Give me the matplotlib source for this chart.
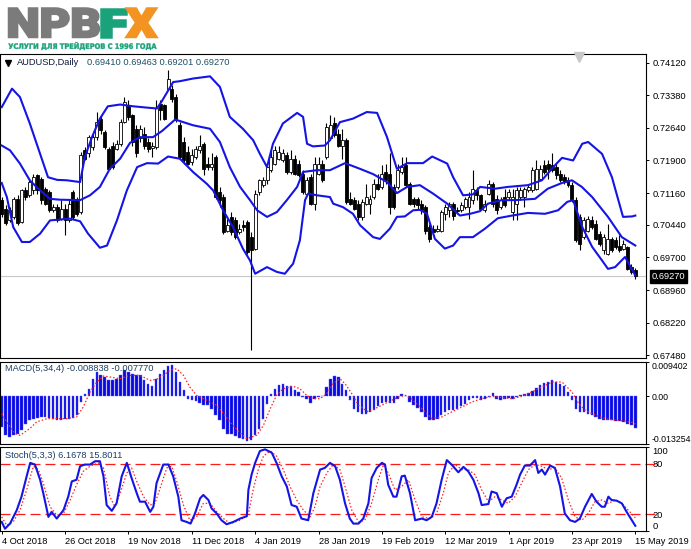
import numpy as np
import matplotlib.pyplot as plt
from matplotlib.textpath import TextPath
from matplotlib.patches import PathPatch
from matplotlib.font_manager import FontProperties
from matplotlib.transforms import Affine2D, blended_transform_factory

plt.rcParams['font.family'] = ['Liberation Sans', 'DejaVu Sans']

# --- AUDUSD daily candles, 4 Oct 2018 .. 15 May 2019 ---
opens = [
    .7100, .7081, .7054, .7062, .7103, .7050, .7122, .7111, .7122, .7156,
    .7149, .7126, .7118, .7077, .7084, .7058, .7081, .7054, .7118, .7103,
    .7073, .7213, .7206, .7221, .7243, .7285, .7255, .7217, .7224, .7217,
    .7228, .7277, .7315, .7293, .7262, .7240, .7251, .7232, .7219, .7221,
    .7319, .7315, .7353, .7353, .7334, .7270, .7232, .7209, .7187, .7198,
    .7213, .7228, .7183, .7175, .7198, .7118, .7107, .7031, .7062, .7054,
    .7028, .7043, .7050, .7016, .6990, .7118, .7134, .7145, .7168, .7183,
    .7194, .7190, .7202, .7164, .7194, .7183, .7160, .7115, .7153, .7092,
    .7160, .7183, .7198, .7240, .7274, .7251, .7224, .7236, .7103, .7100,
    .7092, .7062, .7092, .7092, .7107, .7137, .7130, .7164, .7160, .7130,
    .7130, .7164, .7179, .7137, .7103, .7103, .7092, .7084, .7039, .7035,
    .7031, .7031, .7069, .7077, .7092, .7078, .7077, .7084, .7084, .7100,
    .7122, .7111, .7077, .7115, .7137, .7103, .7084, .7107, .7107, .7073,
    .7092, .7107, .7107, .7122, .7122, .7126, .7149, .7179, .7183, .7179,
    .7175, .7160, .7153, .7145, .7134, .7100, .7062, .7016, .7031, .7054,
    .7046, .7024, .6986, .6978, .7012, .7009, .6997, .6990, .6994, .6948,
    .69410]
highs = [
    .7107, .7088, .7084, .7107, .7111, .7126, .7130, .7149, .7160, .7160,
    .7153, .7130, .7122, .7092, .7092, .7100, .7092, .7100, .7122, .7107,
    .7209, .7221, .7247, .7251, .7300, .7293, .7259, .7221, .7232, .7236,
    .7285, .7334, .7327, .7296, .7270, .7270, .7266, .7240, .7232, .7328,
    .7327, .7319, .7395, .7361, .7342, .7277, .7243, .7224, .7217, .7224,
    .7247, .7232, .7198, .7206, .7202, .7130, .7115, .7058, .7073, .7062,
    .7046, .7054, .7054, .7028, .7122, .7149, .7153, .7183, .7213, .7224,
    .7224, .7217, .7209, .7213, .7202, .7190, .7168, .7153, .7160, .7198,
    .7198, .7190, .7274, .7293, .7289, .7262, .7262, .7240, .7118, .7107,
    .7100, .7103, .7137, .7111, .7149, .7160, .7179, .7183, .7206, .7137,
    .7183, .7198, .7198, .7141, .7107, .7107, .7100, .7088, .7046, .7043,
    .7043, .7077, .7092, .7096, .7096, .7084, .7096, .7107, .7118, .7168,
    .7130, .7115, .7100, .7145, .7141, .7111, .7107, .7126, .7126, .7126,
    .7130, .7130, .7130, .7137, .7175, .7190, .7179, .7190, .7190, .7206,
    .7183, .7168, .7160, .7153, .7141, .7107, .7069, .7062, .7065, .7065,
    .7054, .7031, .7024, .7046, .7016, .7016, .7020, .7009, .6997, .6956,
    .69463]
lows = [
    .7062, .7043, .7050, .7058, .7043, .7047, .7100, .7107, .7115, .7115,
    .7092, .7088, .7073, .7073, .7050, .7054, .7020, .7050, .7058, .7065,
    .7069, .7190, .7198, .7213, .7236, .7251, .7217, .7168, .7171, .7213,
    .7224, .7274, .7281, .7224, .7198, .7232, .7217, .7209, .7198, .7217,
    .7281, .7281, .7349, .7323, .7277, .7194, .7183, .7179, .7179, .7194,
    .7206, .7156, .7168, .7168, .7103, .7084, .7024, .7028, .7020, .7012,
    .7024, .7031, .6978, .6759, .6986, .7111, .7130, .7137, .7164, .7179,
    .7190, .7187, .7160, .7160, .7156, .7153, .7115, .7111, .7088, .7077,
    .7156, .7141, .7194, .7236, .7243, .7221, .7194, .7092, .7088, .7077,
    .7054, .7054, .7088, .7069, .7103, .7122, .7126, .7137, .7069, .7081,
    .7126, .7160, .7130, .7088, .7084, .7081, .7069, .7024, .7005, .7024,
    .7028, .7028, .7054, .7062, .7054, .7069, .7073, .7081, .7058, .7092,
    .7100, .7077, .7073, .7111, .7084, .7069, .7081, .7084, .7103, .7054,
    .7054, .7100, .7084, .7118, .7118, .7122, .7145, .7160, .7149, .7164,
    .7149, .7141, .7137, .7130, .7096, .7005, .6986, .7012, .7028, .7035,
    .7009, .6997, .6978, .6975, .6982, .6990, .6982, .6986, .6941, .6933,
    .69201]
closes = [
    .7069, .7047, .7077, .7103, .7047, .7122, .7107, .7141, .7153, .7122,
    .7100, .7092, .7077, .7084, .7054, .7081, .7054, .7092, .7062, .7069,
    .7202, .7194, .7243, .7243, .7277, .7259, .7221, .7171, .7175, .7228,
    .7277, .7323, .7289, .7232, .7206, .7262, .7224, .7217, .7224, .7308,
    .7304, .7285, .7376, .7330, .7281, .7198, .7190, .7183, .7202, .7217,
    .7224, .7171, .7175, .7183, .7107, .7100, .7028, .7043, .7028, .7016,
    .7035, .7039, .6982, .6986, .7115, .7145, .7145, .7175, .7198, .7213,
    .7209, .7206, .7164, .7194, .7160, .7156, .7118, .7145, .7092, .7183,
    .7183, .7145, .7266, .7270, .7247, .7224, .7236, .7096, .7092, .7081,
    .7062, .7096, .7107, .7103, .7137, .7126, .7160, .7145, .7084, .7084,
    .7168, .7175, .7134, .7092, .7092, .7088, .7077, .7031, .7012, .7028,
    .7035, .7073, .7084, .7092, .7065, .7075, .7088, .7103, .7107, .7126,
    .7111, .7081, .7092, .7137, .7092, .7077, .7100, .7088, .7118, .7107,
    .7122, .7122, .7126, .7130, .7168, .7171, .7171, .7164, .7171, .7168,
    .7156, .7145, .7141, .7134, .7100, .7009, .7001, .7054, .7058, .7039,
    .7012, .7001, .7016, .7012, .6986, .6994, .6986, .7001, .6944, .6937,
    .69270]

# Bollinger bands, read as (bar index, price) points
upper_idx = [0, 2.6, 4.6, 7.1, 9.7, 11.7, 14, 16.5, 19.8, 21, 22.8, 24.8, 26.8, 29.9, 33.2,
             36.7, 39.2, 40.4, 43.3, 45, 48.3, 52.6, 55.1, 57.6, 60.9, 63.5, 65.2, 67, 68.5,
             71, 74.6, 76.1, 77.1, 78.6, 81.6, 82.9, 85.4, 88.7, 92.2, 94.8, 97.3, 99.8,
             102.4, 106.4, 108.7, 112.5, 114, 116.5, 119, 120.8, 124.6, 127.8, 132.9, 136.4,
             139.7, 141.5, 144.3, 146.6, 148.1, 151.6, 154.1, 156.9, 159.2, 160]
upper_val = [.7311, .7353, .7334, .7274, .7205, .7152, .7146, .7145, .7141, .7198, .7243,
             .7285, .7313, .7317, .7313, .7310, .7308, .7324, .7368, .7370, .7376, .7381,
             .7357, .7289, .7262, .7236, .7205, .7175, .7228, .7274, .7298, .7289, .7228,
             .7222, .7224, .7236, .7277, .7285, .7300, .7298, .7243, .7171, .7184, .7184,
             .7199, .7183, .7152, .7111, .7113, .7130, .7126, .7130, .7134, .7145, .7179,
             .7196, .7190, .7228, .7232, .7205, .7152, .7062, .7063, .7065]
mid_idx = [0, 2.1, 4.6, 7.1, 9.7, 12.2, 14.7, 19.8, 22.3, 24.8, 27.3, 29.9, 32.4, 34.9, 38.2,
           40.5, 43.8, 48.3, 52.6, 55.1, 57.6, 60.2, 62.7, 64.5, 67, 69.5, 72, 74.6, 76.1,
           79.6, 82.9, 86.7, 90.5, 93.8, 97.3, 99.8, 102.4, 105.6, 108.9, 112.5, 115.7,
           118.3, 120.8, 122.8, 126.3, 129.6, 134.7, 137.9, 141.5, 144, 146.5, 149.1,
           153.1, 156.6, 160]
mid_val = [.7224, .7213, .7183, .7145, .7122, .7103, .7101, .7100, .7111, .7130, .7171,
           .7194, .7230, .7243, .7243, .7257, .7283, .7270, .7262, .7232, .7175, .7130,
           .7100, .7077, .7062, .7073, .7100, .7130, .7164, .7168, .7168, .7184, .7171,
           .7159, .7141, .7116, .7130, .7134, .7115, .7092, .7065, .7069, .7075, .7092,
           .7100, .7100, .7103, .7126, .7139, .7145, .7130, .7107, .7062, .7016, .6997]
lower_idx = [0, 1.3, 2.9, 5.1, 7.1, 9.7, 12.2, 14.7, 17.2, 19.8, 21.8, 24.8, 26.6, 29.1,
             31.6, 34.2, 36.7, 39.5, 42, 45, 48.3, 51.8, 53.4, 55.9, 58.4, 60.9, 62.7, 64,
             67, 69.5, 71.5, 73.6, 75.3, 76.6, 77.4, 79.6, 82.9, 83.7, 86.2, 88.7, 90.5,
             93.8, 95.5, 98, 99.8, 101.8, 103.9, 105.6, 107.4, 109.4, 111.9, 114, 115.7,
             119, 122, 125.3, 128.9, 132.9, 137.2, 140.5, 142.8, 144.3, 146.6, 149.1,
             151.6, 153.1, 154.9, 157.4, 160]
lower_val = [.7139, .7107, .7039, .7005, .7005, .7024, .7054, .7056, .7058, .7052, .7024,
             .6992, .6997, .7054, .7122, .7175, .7184, .7183, .7199, .7194, .7164, .7137,
             .7122, .7077, .7039, .6990, .6963, .6933, .6948, .6937, .6933, .6956, .7009,
             .7100, .7115, .7111, .7107, .7092, .7084, .7069, .7043, .7016, .7012, .7035,
             .7062, .7063, .7077, .7078, .7069, .7012, .6990, .6997, .7016, .7016, .7035,
             .7059, .7065, .7071, .7069, .7077, .7096, .7100, .7039, .6994, .6963, .6944,
             .6948, .6971, .6929]

# MACD(5,34,4) histogram, one value per bar, and its signal line
macd_hist = [
    -.00855, -.01085, -.01131, -.01085, -.01039, -.00947, -.00763, -.00671, -.00625, -.00606,
    -.00579, -.00579, -.00606, -.00625, -.00671, -.00652, -.00643, -.00643, -.00606, -.00533,
    -.00165, .00065, .00203, .00479, .00663, .00571, .00525, .00433, .00433, .00479,
    .00571, .00709, .00663, .00617, .00571, .00571, .00433, .00341, .00277, .00479,
    .00617, .00709, .00829, .00847, .00663, .00387, .00157, -.00091, -.00119, -.00146,
    -.00183, -.00238, -.00257, -.00349, -.00533, -.00671, -.00901, -.01039, -.01057, -.01112,
    -.01149, -.01177, -.01241, -.01204, -.01085, -.00901, -.00625, -.00211, .00065, .00203,
    .00295, .00323, .00268, .00268, .00176, .00111, -.00027, -.00073, -.00192, -.00073,
    -.00027, .00010, .00249, .00479, .00544, .00525, .00341, .00157, -.00119, -.00349,
    -.00441, -.00487, -.00505, -.00441, -.00376, -.00284, -.00192, -.00165, -.00192, -.00192,
    -.00073, .00047, .00010, -.00165, -.00257, -.00321, -.00441, -.00579, -.00671, -.00671,
    -.00625, -.00533, -.00441, -.00395, -.00395, -.00349, -.00284, -.00211, -.00119, -.00045,
    -.00045, -.00100, -.00073, -.00027, .00084, -.00073, -.00100, -.00073, -.00045, -.00073,
    -.00027, .00019, .00047, .00084, .00139, .00231, .00295, .00360, .00387, .00433,
    .00387, .00341, .00268, .00111, -.00119, -.00349, -.00441, -.00441, -.00487, -.00533,
    -.00579, -.00625, -.00652, -.00671, -.00671, -.00689, -.00689, -.00717, -.00763, -.00809,
    -.00884]
sig_idx = [0, 1.25, 3.4, 4.6, 7.1, 8.8, 11.4, 16.4, 18.9, 20.6, 22.3, 24, 25.7, 27.4, 29.9,
           32.4, 34.9, 37.5, 39.1, 40.8, 42.5, 44.2, 45.9, 47.5, 49.2, 51.8, 54.3, 57.7, 60,
           61.9, 64.4, 66.1, 67.8, 69.4, 71.1, 73.6, 75.3, 77, 78.7, 80.4, 82.1, 83.7, 85.4,
           86.7, 88.4, 90.1, 92.6, 95.1, 97.6, 100.2, 101.9, 103.5, 106.1, 108.6, 111.1,
           113.6, 116.2, 118.7, 121.2, 123.8, 126.3, 128.8, 131.4, 133.9, 136.4, 139,
           141.5, 144, 145.7, 147.4, 149.9, 152.5, 155, 157.5, 159.6, 160]
sig_val = [-.00487, -.00717, -.01039, -.01085, -.00901, -.00717, -.00625, -.00625, -.00579,
           -.00303, .00111, .00387, .00553, .00525, .00479, .00571, .00571, .00433, .00461,
           .00571, .00709, .00755, .00571, .00249, .00019, -.00119, -.00257, -.00720, -.01000,
           -.01177, -.01085, -.00809, -.00349, .00019, .00203, .00268, .00203, .00019,
           -.00073, -.00073, .00065, .00341, .00479, .00341, .00065, -.00257, -.00441,
           -.00303, -.00165, -.00027, .00019, -.00073, -.00349, -.00625, -.00579, -.00441,
           -.00303, -.00165, -.00073, -.00008, -.00045, -.00073, -.00008, .00111, .00249,
           .00387, .00387, .00111, -.00211, -.00395, -.00533, -.00625, -.00671, -.00689,
           -.00744, -.00777]

# Stochastic(5,3,3): %K (blue) and %D (red dotted), read as (bar index, value)
k_idx = [0, 0.83, 2.1, 3.8, 5.0, 6.3, 7.2, 8.4, 9.7, 10.5, 11.8, 12.6, 13.9, 15.6, 16.8, 17.7,
         18.9, 19.8, 21.0, 22.3, 23.6, 24.8, 25.7, 26.5, 27.8, 29.0, 30.3, 31.6, 32.8, 34.1,
         34.9, 36.2, 37.5, 38.3, 39.1, 40.8, 42.1, 43.3, 44.6, 45.4, 46.7, 47.7, 48.8, 50.1,
         50.9, 52.2, 53.0, 54.3, 55.5, 56.8, 58.5, 60.2, 61.9, 62.3, 63.1, 64.0, 65.2, 66.5,
         68.2, 69.4, 70.7, 72.0, 73.2, 74.5, 75.7, 77.4, 78.7, 80.4, 81.6, 82.9, 84.2, 85.4,
         86.7, 87.9, 88.8, 90.1, 91.3, 92.6, 93.4, 94.7, 96.0, 96.8, 97.6, 98.9, 99.7, 101.0,
         101.8, 103.1, 104.4, 106.1, 107.3, 108.6, 109.8, 111.1, 112.4, 113.6, 115.3, 116.6,
         117.8, 119.1, 120.4, 121.2, 122.9, 123.7, 125.0, 126.3, 127.5, 128.8, 130.0, 130.9,
         132.1, 133.4, 134.7, 135.5, 136.4, 137.2, 138.5, 139.7, 141.0, 142.2, 143.5, 144.8,
         146.0, 147.3, 149.0, 150.2, 151.5, 152.3, 153.2, 154.0, 155.3, 156.6, 157.8, 160]
k_val = [10.8, 2.7, 8.8, 24.8, 40.9, 65.1, 81.1, 79.1, 61.0, 45.0, 16.8, 22.8, 14.8, 24.8,
         40.9, 59.0, 61.0, 77.1, 79.1, 79.1, 83.1, 83.1, 65.1, 30.9, 24.0, 32.9, 65.1, 81.1,
         63.0, 45.0, 34.9, 34.9, 22.8, 28.9, 57.0, 79.1, 79.1, 65.1, 40.9, 12.8, 10.8, 8.8,
         20.8, 38.9, 42.9, 36.9, 26.9, 20.8, 12.8, 8.0, 10.8, 14.8, 17.6, 49.0, 67.1, 81.1,
         95.2, 97.2, 93.2, 81.1, 65.1, 53.0, 30.9, 28.9, 14.8, 12.8, 45.0, 73.1, 75.1, 81.1,
         77.1, 61.0, 32.9, 14.8, 8.8, 8.8, 14.8, 32.9, 63.0, 75.1, 81.1, 79.1, 55.0, 40.9,
         40.9, 65.1, 65.9, 45.0, 12.8, 14.8, 12.8, 16.8, 32.9, 61.0, 84.4, 79.1, 69.9, 76.3,
         71.1, 61.0, 45.0, 30.9, 32.1, 47.0, 45.0, 28.9, 38.9, 40.9, 55.0, 67.1, 77.9, 77.9,
         84.4, 69.1, 73.1, 67.1, 77.9, 75.1, 53.0, 20.8, 12.8, 10.8, 14.8, 28.9, 44.1, 34.9,
         28.9, 28.9, 40.9, 36.9, 36.1, 32.9, 22.8, 6.17]
d_idx = [0, 1.25, 2.9, 4.6, 6.3, 8.0, 9.25, 10.5, 12.2, 13.9, 15.6, 17.3, 18.9, 20.6, 22.3,
         24.4, 25.7, 27.3, 28.6, 29.9, 31.6, 32.8, 34.1, 35.8, 37.5, 38.7, 40.0, 41.7, 42.9,
         44.2, 45.9, 47.5, 49.2, 50.9, 52.6, 54.3, 56.0, 57.7, 60.2, 62.3, 63.5, 64.8, 66.1,
         67.8, 69.4, 71.1, 72.8, 74.5, 76.2, 77.9, 79.1, 80.4, 82.1, 83.7, 85.4, 86.7, 88.4,
         90.1, 91.7, 93.4, 95.1, 96.4, 97.6, 99.3, 101.0, 102.7, 104.4, 106.1, 108.2, 109.8,
         111.5, 112.8, 114.5, 116.2, 117.8, 119.5, 121.2, 122.9, 124.6, 126.3, 127.9, 129.6,
         131.3, 133.0, 134.7, 136.4, 138.0, 139.7, 141.4, 143.1, 144.8, 146.5, 148.1, 149.8,
         151.5, 153.2, 154.9, 156.6, 158.2, 160]
d_val = [16.8, 6.8, 10.8, 24.8, 49.0, 77.1, 73.1, 57.0, 28.9, 18.8, 20.8, 36.9, 55.0, 71.1,
         77.1, 81.1, 75.1, 40.9, 28.9, 45.0, 69.1, 75.1, 59.0, 40.9, 30.9, 32.9, 51.0, 75.1,
         77.1, 59.0, 30.9, 12.8, 16.8, 32.9, 32.9, 22.8, 14.8, 8.8, 12.8, 20.8, 49.0, 73.1,
         89.2, 95.2, 89.2, 73.1, 53.0, 36.9, 24.8, 16.8, 28.9, 53.0, 69.1, 79.1, 73.1, 53.0,
         24.8, 10.8, 12.8, 32.9, 61.0, 79.1, 69.1, 49.0, 53.0, 61.0, 36.9, 16.8, 14.8, 20.8,
         45.0, 69.1, 79.1, 73.1, 73.1, 67.1, 49.0, 34.9, 40.9, 36.9, 32.9, 40.9, 57.0, 73.1,
         79.1, 77.1, 73.1, 75.1, 63.0, 36.9, 16.8, 12.8, 20.8, 34.9, 36.9, 32.9, 36.9, 32.9,
         24.8, 15.8]

price_ticks = [0.74120, 0.73380, 0.72640, 0.71900, 0.71160, 0.70440, 0.69700, 0.68960,
               0.68220, 0.67480]
date_labels = ['4 Oct 2018', '26 Oct 2018', '19 Nov 2018', '11 Dec 2018', '4 Jan 2019',
               '28 Jan 2019', '19 Feb 2019', '12 Mar 2019', '1 Apr 2019', '23 Apr 2019',
               '15 May 2019']
last_price = 0.69270

# --- figure layout (MT4 style, three stacked panels) ---
W, H = 691, 549
fig = plt.figure(figsize=(W / 100, H / 100), dpi=100)


def px_axes(x0, y0, x1, y1):
    return fig.add_axes([x0 / W, 1 - y1 / H, (x1 - x0) / W, (y1 - y0) / H])


ax = px_axes(0, 54, 646, 358)
ax_m = px_axes(0, 362, 646, 444)
ax_s = px_axes(0, 447, 646, 531)

n = len(closes)
x = np.arange(n)
o, h, l, c = map(np.array, (opens, highs, lows, closes))
XL = (-0.43, 162.7)
TXT = dict(fontsize=6.7)

for a in (ax, ax_m, ax_s):
    a.set_xlim(*XL)
    a.yaxis.tick_right()
    a.tick_params(axis='y', direction='out', length=2.5, width=0.7, pad=2,
                  labelsize=6.7, colors='black')
    for sp in a.spines.values():
        sp.set_linewidth(0.8)
        sp.set_color('black')
    a.set_xticks([])

# main panel: candles + bollinger bands
ax.set_ylim(0.67417, 0.74317)
ax.axhline(last_price, color='#c8c8c8', lw=0.8, zorder=1)
ax.vlines(x, l, h, color='black', lw=0.8, zorder=2)
lo_b = np.minimum(o, c)
hi_b = np.maximum(o, c)
ax.bar(x, np.maximum(hi_b - lo_b, 0.00006), bottom=lo_b, width=0.75,
       color=np.where(c >= o, 'white', 'black'), edgecolor='black', linewidth=0.6, zorder=3)
band_c = '#1414e6'
ax.plot(upper_idx, upper_val, color=band_c, lw=1.5, zorder=4)
ax.plot(mid_idx, mid_val, color=band_c, lw=1.5, zorder=4)
ax.plot(lower_idx, lower_val, color=band_c, lw=1.5, zorder=4)
ax.set_yticks(price_ticks)
ax.set_yticklabels([f'{v:.5f}' for v in price_ticks])

bt = blended_transform_factory(ax.transAxes, ax.transData)
ax.text(1.0085, last_price, f'{last_price:.5f}', transform=bt, ha='left', va='center',
        color='white', fontsize=6.7, zorder=10, clip_on=False,
        bbox=dict(boxstyle='square,pad=0.18', fc='black', ec='black'))

ax.plot([7.5 / 646], [1 - 8.5 / 304], marker='v', ms=4, color='black',
        transform=ax.transAxes, clip_on=False)
ax.text(17 / 646, 1 - 8.5 / 304, 'AUDUSD,Daily', transform=ax.transAxes,
        ha='left', va='center', color='#10183a', **TXT)
ax.text(87 / 646, 1 - 8.5 / 304, '0.69410 0.69463 0.69201 0.69270',
        transform=ax.transAxes, ha='left', va='center', color='#1d4f66', **TXT)
ax.plot([579 / 646], [1 - 3 / 304], marker='v', ms=7, color='#c8c8c8',
        transform=ax.transAxes, clip_on=False, zorder=6)

# MACD panel
ax_m.set_ylim(-0.013254, 0.009402)
ax_m.bar(x, macd_hist, width=0.62, color='#0a0ae0', edgecolor='#5a5aff', linewidth=0.3)
ax_m.plot(sig_idx, sig_val, color='#ff2020', lw=0.9, ls=(0, (1.2, 1.6)))
ax_m.set_yticks([0.009402, 0.0, -0.013254])
ax_m.set_yticklabels(['0.009402', '0.00', '-0.013254'])
ax_m.tick_params(axis='y', labelsize=6.3, pad=1.5)
labs = ax_m.get_yticklabels()
labs[0].set_va('top')
labs[2].set_va('bottom')
ax_m.text(5 / 646, 1 - 6.5 / 82, 'MACD(5,34,4) -0.008838 -0.007770', transform=ax_m.transAxes,
          ha='left', va='center', color='#1d3f66', **TXT)

# Stochastic panel
ax_s.set_ylim(0, 100)
st = blended_transform_factory(ax_s.transAxes, ax_s.transData)
for lev in (80, 20):
    ax_s.plot([0, 1.014], [lev, lev], color='#ff1a1a', lw=0.9, ls=(0, (8, 4)),
              transform=st, clip_on=False)
ax_s.plot(d_idx, d_val, color='#ff2020', lw=0.9, ls=(0, (1.2, 1.6)))
ax_s.plot(k_idx, k_val, color='#1414e6', lw=1.5)
ax_s.set_yticks([100, 80, 20, 0])
ax_s.set_yticklabels(['100', '80', '20', '0'])
labs = ax_s.get_yticklabels()
labs[0].set_va('top')
labs[3].set_va('bottom')
ax_s.text(5 / 646, 1 - 8 / 84, 'Stoch(5,3,3) 6.1678 15.8011', transform=ax_s.transAxes,
          ha='left', va='center', color='#1d3f66', **TXT)
ax_s.set_xticks(np.arange(0, n, 16))
ax_s.set_xticklabels(date_labels)
ax_s.tick_params(axis='x', direction='out', length=2.5, width=0.7, pad=2, labelsize=6.7)
for lab in ax_s.get_xticklabels():
    lab.set_ha('left')

# logo drawn as outlined text in pixel space
ov = fig.add_axes([0, 0, 1, 1], zorder=-1)
ov.set_xlim(0, W)
ov.set_ylim(H, 0)
ov.axis('off')


def path_text(s, x0, y_top, w, hgt, color, prop, stroke=0.0):
    tp = TextPath((0, 0), s, size=10, prop=prop)
    bb = tp.get_extents()
    tr = (Affine2D().translate(-bb.x0, -bb.y1)
          .scale(w / bb.width, -hgt / bb.height).translate(x0, y_top))
    ov.add_patch(PathPatch(tr.transform_path(tp), fc=color, ec=color, lw=stroke))


heavy = FontProperties(family=['Roboto', 'DejaVu Sans'], weight='black')
bold = FontProperties(family='DejaVu Sans', weight='bold')
path_text('NPB', 9, 8.5, 90, 28.5, '#7b7b7b', heavy, stroke=1.8)
path_text('F', 101.5, 8.5, 25, 28.5, '#1aa37a', heavy, stroke=1.8)
path_text('X', 126.5, 8.5, 30, 28.5, '#f39322', heavy, stroke=1.8)
path_text('УСЛУГИ ДЛЯ ТРЕЙДЕРОВ С 1996 ГОДА', 8.5, 42, 148, 8, '#1aa37a', bold, stroke=0.3)

fig.savefig('out.png', dpi=100)
